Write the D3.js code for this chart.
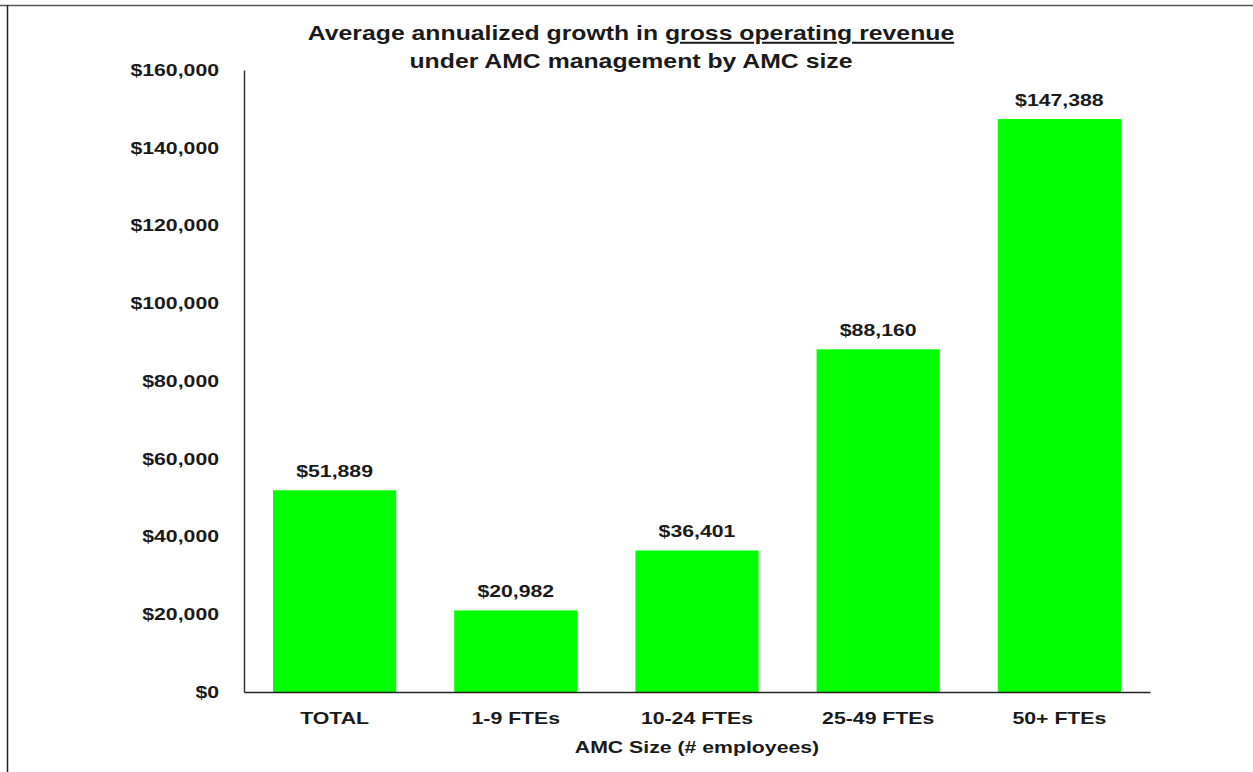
<!DOCTYPE html>
<html>
<head>
<meta charset="utf-8">
<script src="https://cdn.jsdelivr.net/npm/d3@7/dist/d3.min.js"></script>
<style>
  html, body { margin: 0; padding: 0; background: #fff; }
  svg { display: block; }
  text { font-family: "Liberation Sans", Arial, sans-serif; font-weight: bold; fill: #1a1a1a; }
</style>
</head>
<body>
<svg id="chart" width="1253" height="772"></svg>
<script>
// Average annualized growth in gross operating revenue, by AMC size
const categories = ["TOTAL", "1-9 FTEs", "10-24 FTEs", "25-49 FTEs", "50+ FTEs"];
const revenueGrowth = [51889, 20982, 36401, 88160, 147388];
const yTicks = [0, 20000, 40000, 60000, 80000, 100000, 120000, 140000, 160000];

const svg = d3.select("#chart");
const W = 1253, H = 772;
const plot = { left: 244, right: 1150, top: 70, bottom: 692 };
const SX = 1.25; // horizontal widening of the lettering

// widen text horizontally while keeping its anchor point in place
function widen(sel, sx) {
  sel.each(function () {
    const t = d3.select(this);
    const x = +t.attr("x") || 0;
    t.attr("x", x / sx).attr("transform", `scale(${sx},1)`);
  });
}

// outer frame (top and left edges)
svg.append("line").attr("x1", 0).attr("x2", W).attr("y1", 5.5).attr("y2", 5.5)
  .attr("stroke", "#555").attr("stroke-width", 1.5);
svg.append("line").attr("x1", 7.5).attr("x2", 7.5).attr("y1", 5).attr("y2", H)
  .attr("stroke", "#222").attr("stroke-width", 1.5);

const x = d3.scaleBand()
  .domain(categories)
  .range([plot.left, plot.right])
  .paddingInner(0.32)
  .paddingOuter(0.16);

const y = d3.scaleLinear()
  .domain([0, 160000])
  .range([plot.bottom, plot.top]);

const fmt = v => "$" + d3.format(",")(v);

// bars
svg.append("g").selectAll("rect")
  .data(categories)
  .join("rect")
  .attr("x", d => x(d))
  .attr("width", x.bandwidth())
  .attr("y", (d, i) => y(revenueGrowth[i]))
  .attr("height", (d, i) => y(0) - y(revenueGrowth[i]))
  .attr("fill", "#00ff00");

// value labels
const valueLabels = svg.append("g").selectAll("text")
  .data(categories)
  .join("text")
  .attr("x", d => x(d) + x.bandwidth() / 2)
  .attr("y", (d, i) => y(revenueGrowth[i]) - 13)
  .attr("text-anchor", "middle")
  .attr("font-size", 17)
  .text((d, i) => fmt(revenueGrowth[i]));
widen(valueLabels, SX);

// y axis
const yAxis = svg.append("g")
  .attr("transform", `translate(${plot.left},0)`)
  .call(d3.axisLeft(y).tickValues(yTicks).tickSize(0).tickPadding(25).tickFormat(fmt));
yAxis.select(".domain").attr("stroke", "#333").attr("stroke-width", 1.5);
yAxis.selectAll("text").attr("font-size", 17).attr("fill", "#1a1a1a")
  .attr("font-family", "'Liberation Sans', Arial, sans-serif").attr("font-weight", "bold");
widen(yAxis.selectAll("text"), SX);

// x axis
const xAxis = svg.append("g")
  .attr("transform", `translate(0,${plot.bottom})`)
  .call(d3.axisBottom(x).tickSize(0).tickPadding(20));
xAxis.select(".domain").attr("stroke", "#222").attr("stroke-width", 1.5);
xAxis.selectAll("text").attr("font-size", 17).attr("fill", "#1a1a1a")
  .attr("font-family", "'Liberation Sans', Arial, sans-serif").attr("font-weight", "bold");
widen(xAxis.selectAll("text"), SX);

// axis title
const axisTitle = svg.append("text")
  .attr("x", (plot.left + plot.right) / 2)
  .attr("y", 753)
  .attr("text-anchor", "middle")
  .attr("font-size", 17)
  .text("AMC Size (# employees)");
widen(axisTitle, SX);

// chart title
const t1 = svg.append("text")
  .attr("x", 631).attr("y", 40)
  .attr("text-anchor", "middle")
  .attr("font-size", 20);
t1.append("tspan").text("Average annualized growth in ");
t1.append("tspan").style("text-decoration", "underline").text("gross operating revenue");
const t2 = svg.append("text")
  .attr("x", 631).attr("y", 68)
  .attr("text-anchor", "middle")
  .attr("font-size", 20)
  .text("under AMC management by AMC size");
widen(t1, 1.24);
widen(t2, 1.24);
</script>
</body>
</html>
